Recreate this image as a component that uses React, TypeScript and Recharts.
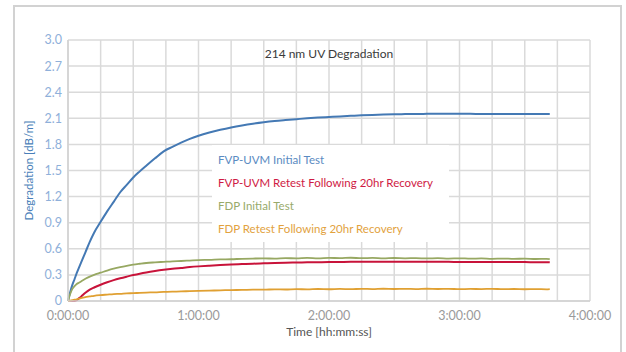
import { LineChart, Line, XAxis, YAxis, CartesianGrid, Legend, Customized } from "recharts";

// time of each sample, minutes from start
const minutes = [
  0, 1, 2, 3, 4, 5, 6, 8, 10, 12, 15, 18, 21, 24, 27, 30, 33, 36, 40, 44, 48, 52, 56, 60,
  65, 70, 75, 80, 85, 90, 95, 100, 105, 110, 115, 120, 125, 130, 135, 140, 145, 150, 155,
  160, 165, 170, 175, 180, 185, 190, 195, 200, 205, 210, 215, 220, 221.5,
];

const fvpInitial = [
  0, 0.1, 0.185, 0.25, 0.32, 0.38, 0.44, 0.56, 0.68, 0.785, 0.91, 1.03, 1.14, 1.25, 1.335, 1.42, 1.49, 1.555, 1.64, 1.72, 1.772, 1.82, 1.863, 1.9,
  1.937, 1.968, 1.995, 2.018, 2.038, 2.055, 2.069, 2.08, 2.09, 2.1, 2.108, 2.115, 2.122, 2.128, 2.134, 2.139, 2.143, 2.146, 2.148,
  2.15, 2.151, 2.152, 2.152, 2.151, 2.151, 2.15, 2.15, 2.149, 2.149, 2.148, 2.148, 2.148, 2.148,
];

const fvpRetest = [
  0, 0, 0, 0, 0.01, 0.03, 0.05, 0.095, 0.13, 0.155, 0.187, 0.215, 0.24, 0.261, 0.28, 0.298, 0.314, 0.328, 0.344, 0.358, 0.37, 0.38, 0.39, 0.398,
  0.406, 0.413, 0.419, 0.424, 0.429, 0.433, 0.437, 0.44, 0.442, 0.444, 0.446, 0.448, 0.449, 0.45, 0.45, 0.451, 0.451, 0.451, 0.451,
  0.45, 0.45, 0.45, 0.45, 0.449, 0.449, 0.449, 0.448, 0.448, 0.447, 0.447, 0.446, 0.446, 0.445,
];

const fdpInitial = [
  0, 0.08, 0.14, 0.17, 0.195, 0.21, 0.225, 0.255, 0.28, 0.3, 0.325, 0.35, 0.372, 0.39, 0.405, 0.418, 0.428, 0.437, 0.444, 0.45, 0.456, 0.46, 0.465, 0.47,
  0.473, 0.478, 0.48, 0.485, 0.488, 0.49, 0.487, 0.493, 0.49, 0.495, 0.491, 0.496, 0.493, 0.497, 0.492, 0.495, 0.49, 0.494, 0.491,
  0.493, 0.489, 0.492, 0.488, 0.491, 0.487, 0.489, 0.485, 0.488, 0.484, 0.487, 0.483, 0.485, 0.482,
];

const fdpRetest = [
  0, 0.005, 0.01, 0.015, 0.02, 0.027, 0.032, 0.045, 0.052, 0.06, 0.068, 0.074, 0.08, 0.083, 0.088, 0.09, 0.094, 0.097, 0.1, 0.105, 0.108, 0.11, 0.114, 0.117,
  0.12, 0.122, 0.126, 0.127, 0.131, 0.13, 0.134, 0.132, 0.136, 0.134, 0.138, 0.135, 0.139, 0.136, 0.14, 0.137, 0.141, 0.138, 0.14,
  0.137, 0.141, 0.138, 0.14, 0.136, 0.139, 0.137, 0.14, 0.136, 0.138, 0.135, 0.137, 0.134, 0.136,
];

const yTicks = [0, 0.3, 0.6, 0.9, 1.2, 1.5, 1.8, 2.1, 2.4, 2.7, 3.0];
// gridline every 15 min, label every hour
const xTicks = [0, 900, 1800, 2700, 3600, 4500, 5400, 6300, 7200, 8100, 9000, 9900, 10800, 11700, 12600, 13500, 14400];

const series = [
  { key: "fvpInitial", name: "FVP-UVM Initial Test", color: "#4479b4", text: "#5a8bc2", width: 2 },
  { key: "fvpRetest", name: "FVP-UVM Retest Following 20hr Recovery", color: "#c8133a", text: "#cf1a44", width: 2 },
  { key: "fdpInitial", name: "FDP Initial Test", color: "#97a862", text: "#98aa6a", width: 1.8 },
  { key: "fdpRetest", name: "FDP Retest Following 20hr Recovery", color: "#e0a032", text: "#e2a23e", width: 1.8 },
];

const data = minutes.map((m, i) => ({
  t: m * 60,
  fvpInitial: fvpInitial[i],
  fvpRetest: fvpRetest[i],
  fdpInitial: fdpInitial[i],
  fdpRetest: fdpRetest[i],
}));

const fmtTime = (v: number) => (v % 3600 === 0 ? `${v / 3600}:00:00` : "");

function LegendBox() {
  return (
    <div style={{ background: "#fff", width: 237, height: 97, boxSizing: "border-box", padding: "3px 0 0 6px" }}>
      {series.map((s) => (
        <div key={s.key} style={{ color: s.text, fontSize: 11.5, lineHeight: "23px", whiteSpace: "nowrap" }}>
          {s.name}
        </div>
      ))}
    </div>
  );
}

export default function App() {
  return (
    <div style={{ position: "absolute", left: 0, top: 0, width: 626, height: 352, overflow: "hidden", background: "#fff", fontFamily: "Lato" }}>
      <div style={{ position: "absolute", left: 13, top: 5, width: 609, height: 400, border: "2px solid #d2d2d2", boxSizing: "border-box" }} />
      <div style={{ position: "absolute", left: 0, top: 0 }}>
        <LineChart width={626} height={352} data={data} margin={{ top: 40, right: 36, bottom: 0, left: 0 }}>
          <CartesianGrid stroke="#dadada" strokeWidth={1.5} horizontalValues={yTicks} />
          <XAxis
            dataKey="t"
            type="number"
            domain={[0, 14400]}
            ticks={xTicks}
            interval={0}
            tickFormatter={fmtTime}
            tickLine={false}
            tickMargin={4}
            axisLine={{ stroke: "#d2d2d2", strokeWidth: 1.5 }}
            tick={{ fill: "#9a9a9a", fontSize: 12.5 }}
            height={51}
            label={{ value: "Time [hh:mm:ss]", position: "center", dy: 5, fill: "#555", fontSize: 12 }}
          />
          <YAxis
            type="number"
            domain={[0, 3]}
            ticks={yTicks}
            interval={0}
            tickFormatter={(v: number) => (v === 0 ? "0" : v.toFixed(1))}
            tickLine={false}
            tickSize={4}
            axisLine={{ stroke: "#d2d2d2", strokeWidth: 1.5 }}
            tick={{ fill: "#8fb0da", fontSize: 12.5 }}
            width={68}
            label={{ value: "Degradation [dB/m]", angle: -90, position: "center", dx: -5, fill: "#4a7fb9", fontSize: 11.5 }}
          />
          <Legend
            layout="vertical"
            align="center"
            verticalAlign="middle"
            wrapperStyle={{ left: 212, top: 145, width: 237, height: 97 }}
            content={() => <LegendBox />}
          />
          <Customized
            component={() => (
              <text x={329} y={58} textAnchor="middle" fill="#3a3a3a" fontSize={12}>
                214 nm UV Degradation
              </text>
            )}
          />
          {series.map((s) => (
            <Line
              key={s.key}
              dataKey={s.key}
              name={s.name}
              type="monotone"
              stroke={s.color}
              strokeWidth={s.width}
              dot={false}
              isAnimationActive={false}
            />
          ))}
        </LineChart>
      </div>
    </div>
  );
}
